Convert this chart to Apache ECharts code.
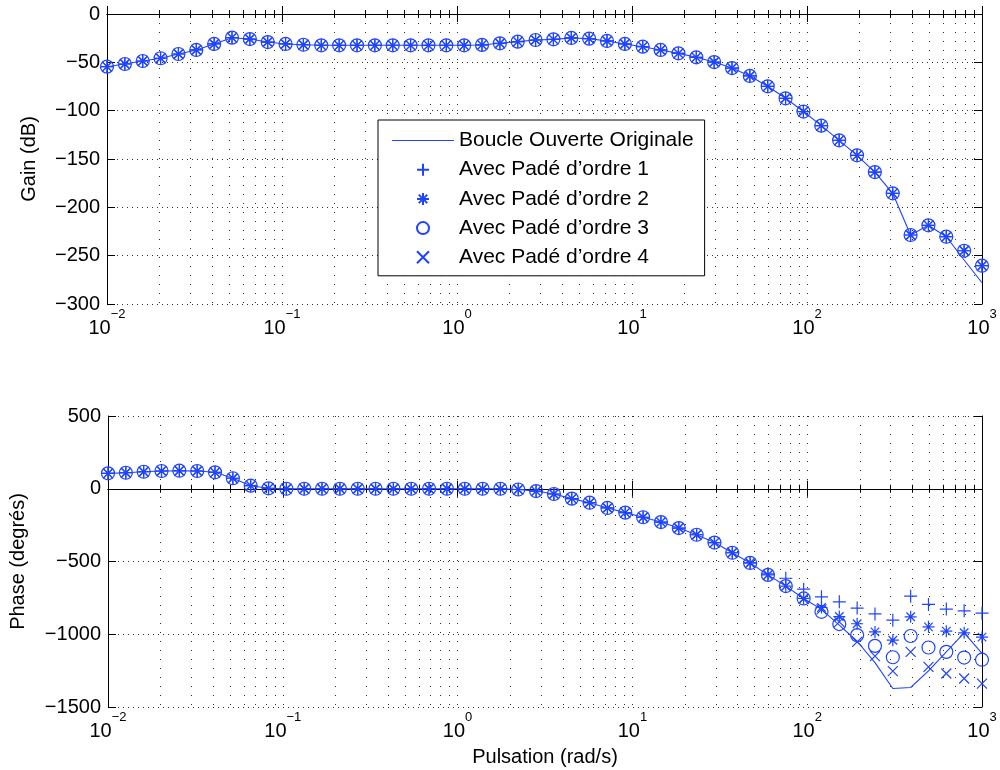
<!DOCTYPE html>
<html><head><meta charset="utf-8">
<script src="https://cdn.jsdelivr.net/npm/echarts@6/dist/echarts.min.js"></script>
<style>html,body{margin:0;padding:0;background:#fff}#c{width:1000px;height:770px}</style>
</head><body><div id="c"></div>
<script>
// Pulsation samples (rad/s), 50 log-spaced points from 1e-2 to 1e3
const pulsation = [0.01, 0.012649, 0.016, 0.020236, 0.025595, 0.032375, 0.040949, 0.051795, 0.065513, 0.082864,
  0.10481, 0.13257, 0.16768, 0.21210, 0.26827, 0.33932, 0.42919, 0.54287, 0.68665, 0.86851,
  1.0985, 1.3895, 1.7575, 2.2230, 2.8118, 3.5565, 4.4984, 5.6899, 7.1969, 9.1030,
  11.514, 14.563, 18.421, 23.300, 29.471, 37.276, 47.149, 59.636, 75.431, 95.409,
  120.68, 152.64, 193.07, 244.20, 308.88, 390.69, 494.17, 625.06, 790.60, 1000];

const seriesNames = ['Boucle Ouverte Originale', 'Avec Padé d\u2019ordre 1', 'Avec Padé d\u2019ordre 2', 'Avec Padé d\u2019ordre 3', 'Avec Padé d\u2019ordre 4'];

// Gain (dB)
const gainOriginal = [-54.5, -51.7, -48.6, -45.8, -41.4, -37.2, -31, -24.5, -25.9, -29,
  -31, -31.8, -32.4, -32.4, -32.4, -32.4, -32.4, -32.4, -32.4, -32.4,
  -32.4, -32, -30.3, -28.6, -26.9, -26.2, -24.8, -25.5, -27.9, -31,
  -33.8, -37.2, -40.7, -44.8, -49.7, -55.9, -64.1, -74.8, -87.2, -100.9,
  -115.5, -130.7, -146.2, -163.5, -185.5, -228.6, -218.6, -230.4, -254.5, -278];
// Gain is identical for all Padé orders (all-pass approximation)
const gainPade = [-54.5, -51.7, -48.6, -45.8, -41.4, -37.2, -31, -24.5, -25.9, -29,
  -31, -31.8, -32.4, -32.4, -32.4, -32.4, -32.4, -32.4, -32.4, -32.4,
  -32.4, -32, -30.3, -28.6, -26.9, -26.2, -24.8, -25.5, -27.9, -31,
  -33.8, -37.2, -40.7, -44.8, -49.7, -55.9, -64.1, -74.8, -87.2, -100.9,
  -115.5, -130.7, -146.2, -163.5, -185.5, -228.6, -218.6, -230.4, -244.9, -260.4];

// Phase (degrés)
const phaseOriginal = [106, 110, 117, 122, 124, 122, 113, 72, 21, 3,
  0, 0, 0, 0, 0, 0, 0, 0, 0, 0,
  0, 0, 0, -5, -16, -36, -68, -96, -132, -164,
  -196, -229, -270, -316, -370, -440, -510, -592, -669, -754,
  -829, -937, -1048, -1195, -1373, -1366, -1252, -1121, -990, -1132];
const phasePade1 = [106, 110, 117, 122, 124, 122, 113, 72, 21, 3,
  0, 0, 0, 0, 0, 0, 0, 0, 0, 0,
  0, 0, 0, -5, -16, -36, -68, -96, -132, -164,
  -196, -229, -270, -316, -370, -440, -510, -585, -615, -690,
  -743, -777, -820, -860, -903, -738, -795, -827, -839, -855];
const phasePade2 = [106, 110, 117, 122, 124, 122, 113, 72, 21, 3,
  0, 0, 0, 0, 0, 0, 0, 0, 0, 0,
  0, 0, 0, -5, -16, -36, -68, -96, -132, -164,
  -196, -229, -270, -316, -370, -440, -510, -592, -669, -754,
  -816, -878, -928, -984, -1041, -880, -949, -979, -990, -1020];
const phasePade3 = [106, 110, 117, 122, 124, 122, 113, 72, 21, 3,
  0, 0, 0, 0, 0, 0, 0, 0, 0, 0,
  0, 0, 0, -5, -16, -36, -68, -96, -132, -164,
  -196, -229, -270, -316, -370, -440, -510, -592, -669, -754,
  -846, -930, -1006, -1080, -1158, -1012, -1091, -1121, -1160, -1175];
const phasePade4 = [106, 110, 117, 122, 124, 122, 113, 72, 21, 3,
  0, 0, 0, 0, 0, 0, 0, 0, 0, 0,
  0, 0, 0, -5, -16, -36, -68, -96, -132, -164,
  -196, -229, -270, -316, -370, -440, -510, -592, -669, -757,
  -829, -915, -1052, -1150, -1253, -1121, -1224, -1270, -1304, -1339];

const gainTicks = {min: -300, max: 0, step: 50};
const phaseTicks = {min: -1500, max: 500, step: 500};

const BLUE = '#1f44ff';
const FONT = '"Liberation Sans", Arial, Helvetica, sans-serif';
const SYM = {
  plus: 'path://M5,0L5,10M0,5L10,5',
  star: 'path://M5,0L5,10M0,5L10,5M1.46,1.46L8.54,8.54M8.54,1.46L1.46,8.54',
  circle: 'circle',
  cross: 'path://M0,0L10,10M10,0L0,10'
};

function pairs(vals) { return pulsation.map((w, i) => [w, vals[i]]); }
function minusFmt(v) { return v < 0 ? '\u2212' + Math.abs(v) : String(v); }

const dotV = {color: '#333', width: 1, type: [1, 8]};
const dotH = {color: '#333', width: 1, type: [1, 4]};

function xAxes(gi) {
  const base = {
    type: 'log', logBase: 10, min: 0.01, max: 1000, gridIndex: gi,
    axisLine: {show: true, lineStyle: {color: '#000', width: 1}},
    axisTick: {show: true, inside: true, length: 8, lineStyle: {color: '#000'}},
    minorTick: {show: true, splitNumber: 9, length: 4, lineStyle: {color: '#000'}},
  };
  const bottom = Object.assign({}, base, {
    position: 'bottom',
    splitLine: {show: true, lineStyle: dotV},
    minorSplitLine: {show: true, lineStyle: dotV},
    axisLabel: {
      margin: 4, color: '#000', fontFamily: FONT,
      formatter: v => '{b|10}{s|' + minusFmt(Math.round(Math.log10(v))) + '}',
      rich: {
        b: {fontSize: 20, lineHeight: 30, verticalAlign: 'bottom', fontFamily: FONT, color: '#000'},
        s: {fontSize: 13, lineHeight: 14, verticalAlign: 'top', fontFamily: FONT, color: '#000'}
      }
    }
  });
  if (gi === 1) {
    Object.assign(bottom, {name: 'Pulsation (rad/s)', nameLocation: 'middle', nameGap: 40,
      nameTextStyle: {fontSize: 20, color: '#000', fontFamily: FONT}});
  }
  const top = Object.assign({}, base, {
    position: 'top', splitLine: {show: false}, minorSplitLine: {show: false}, axisLabel: {show: false}
  });
  return [bottom, top];
}

function yAxes(gi, t, name, gap) {
  const left = {
    type: 'value', gridIndex: gi, position: 'left', min: t.min, max: t.max, interval: t.step,
    axisLine: {show: true, lineStyle: {color: '#000'}},
    axisTick: {show: true, inside: true, length: 8, lineStyle: {color: '#000'}},
    splitLine: {show: true, lineStyle: dotH},
    axisLabel: {margin: 7, fontSize: 20, color: '#000', fontFamily: FONT, formatter: minusFmt},
    name: name, nameLocation: 'middle', nameGap: gap,
    nameTextStyle: {fontSize: 20, color: '#000', fontFamily: FONT}
  };
  const right = {
    type: 'value', gridIndex: gi, position: 'right', min: t.min, max: t.max, interval: t.step,
    axisLine: {show: true, lineStyle: {color: '#000'}},
    axisTick: {show: true, inside: true, length: 8, lineStyle: {color: '#000'}},
    splitLine: {show: false}, axisLabel: {show: false}
  };
  return [left, right];
}

function lineSeries(vals, xi, yi) {
  return {type: 'line', name: seriesNames[0], xAxisIndex: xi, yAxisIndex: yi, data: pairs(vals),
    symbol: 'none', showSymbol: false, lineStyle: {color: BLUE, width: 1.1}, itemStyle: {color: BLUE},
    silent: true, animation: false, z: 2};
}
function markerSeries(k, symbol, size, vals, xi, yi) {
  return {type: 'scatter', name: seriesNames[k], xAxisIndex: xi, yAxisIndex: yi, data: pairs(vals),
    symbol: symbol, symbolSize: size,
    itemStyle: {color: 'transparent', borderColor: BLUE, borderWidth: 1.2, opacity: 1},
    silent: true, animation: false, z: 3};
}

const legendData = seriesNames.map((n, i) => i === 0
  ? {name: n, icon: 'path://M0,0L62,0L62,1.2L0,1.2Z', itemStyle: {color: BLUE}}
  : {name: n});

const chart = echarts.init(document.getElementById('c'), null, {renderer: 'canvas'});
chart.setOption({
  animation: false,
  backgroundColor: '#fff',
  textStyle: {fontFamily: FONT},
  grid: [
    {left: 107, right: 18, top: 14, height: 290},
    {left: 107, right: 18, top: 416, height: 291}
  ],
  xAxis: [...xAxes(0), ...xAxes(1)],
  yAxis: [...yAxes(0, gainTicks, 'Gain (dB)', 68), ...yAxes(1, phaseTicks, 'Phase (degrés)', 80)],
  legend: {
    show: true, orient: 'vertical', left: 378, top: 120,
    data: legendData, itemWidth: 62, itemHeight: 12, itemGap: 8.2,
    padding: [10, 11, 8, 14], borderColor: '#000', borderWidth: 1, borderRadius: 0,
    backgroundColor: '#fff', selectedMode: false,
    textStyle: {fontSize: 21, lineHeight: 20, color: '#000', fontFamily: FONT}
  },
  series: [
    lineSeries(gainOriginal, 0, 0),
    markerSeries(1, SYM.plus, 13, gainPade, 0, 0),
    markerSeries(2, SYM.star, 12, gainPade, 0, 0),
    markerSeries(3, SYM.circle, 13, gainPade, 0, 0),
    markerSeries(4, SYM.cross, 10, gainPade, 0, 0),
    lineSeries(phaseOriginal, 2, 2),
    markerSeries(1, SYM.plus, 13, phasePade1, 2, 2),
    markerSeries(2, SYM.star, 12, phasePade2, 2, 2),
    markerSeries(3, SYM.circle, 13, phasePade3, 2, 2),
    markerSeries(4, SYM.cross, 10, phasePade4, 2, 2)
  ]
});
</script></body></html>
